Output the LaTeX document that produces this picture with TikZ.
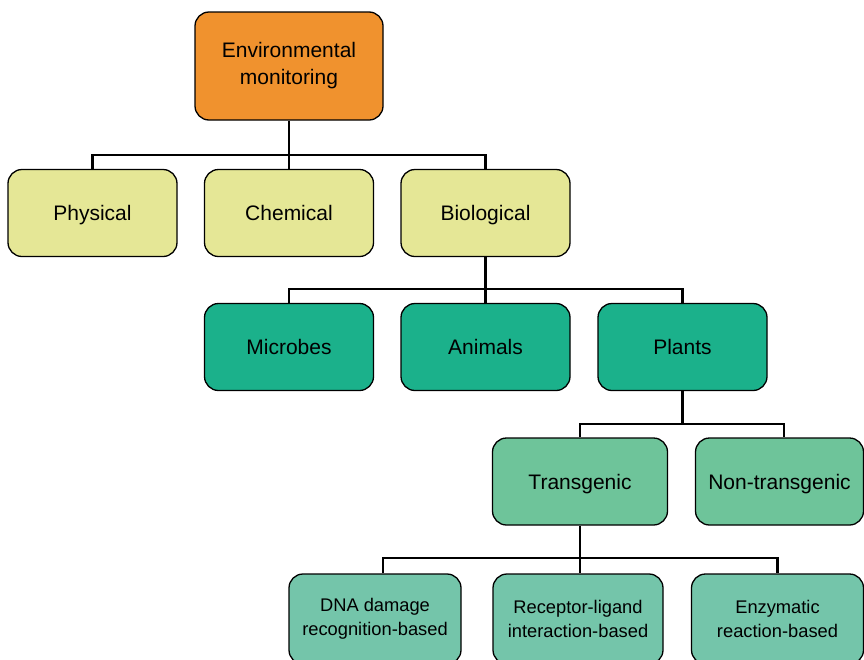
\documentclass[tikz,border=0pt]{standalone}
\usepackage{fontspec}
\setmainfont{Liberation Sans}
\begin{document}
\definecolor{orangebox}{HTML}{F0922E}
\definecolor{yellowbox}{HTML}{E5E796}
\definecolor{tealbox}{HTML}{1BB18B}
\definecolor{greenbox}{HTML}{6EC49A}
\definecolor{mintbox}{HTML}{74C5AA}
\begin{tikzpicture}[x=1pt,y=-1pt,
  box/.style={draw=black,line width=1.3pt,rounded corners=14pt,inner sep=0pt,
    align=center,minimum height=87pt},
  bigtext/.style={font=\fontsize{21}{27}\selectfont},
  oneline/.style={text height=15pt,text depth=0pt},
  smalltext/.style={font=\fontsize{18.3}{24}\selectfont},
  link/.style={draw=black,line width=2.8pt,line join=miter}]
\useasboundingbox (0,0) rectangle (864,659);

% top level
\node[box,bigtext,fill=orangebox,minimum width=188pt,minimum height=108pt] (env) at (289,66) {Environmental\\monitoring};

% monitoring approaches
\node[box,bigtext,oneline,fill=yellowbox,minimum width=169pt] (phys) at (92.5,213) {Physical};
\node[box,bigtext,oneline,fill=yellowbox,minimum width=169pt] (chem) at (289,213) {Chemical};
\node[box,bigtext,oneline,fill=yellowbox,minimum width=169pt] (bio) at (485.5,213) {Biological};

% biological indicators
\node[box,bigtext,oneline,fill=tealbox,minimum width=169pt] (mic) at (289,347) {Microbes};
\node[box,bigtext,oneline,fill=tealbox,minimum width=169pt] (ani) at (485.5,347) {Animals};
\node[box,bigtext,oneline,fill=tealbox,minimum width=169pt] (pla) at (682.5,347) {Plants};

% plant types
\node[box,bigtext,oneline,fill=greenbox,minimum width=175pt] (tra) at (580,481.5) {Transgenic};
\node[box,bigtext,oneline,fill=greenbox,minimum width=168pt] (non) at (779.5,481.5) {Non-transgenic};

% transgenic mechanisms
\node[box,smalltext,fill=mintbox,minimum width=172pt,minimum height=90pt] (dna) at (375,619) {DNA damage\\recognition-based};
\node[box,smalltext,fill=mintbox,minimum width=170pt,minimum height=90pt] (rec) at (578,619) {Receptor-ligand\\interaction-based};
\node[box,smalltext,fill=mintbox,minimum width=172pt,minimum height=90pt] (enz) at (777.5,619) {Enzymatic\\reaction-based};

% bus points where each parent's line branches
\coordinate (b1) at (env.south |- 0,155);
\coordinate (b2) at (bio.south |- 0,289);
\coordinate (b3) at (pla.south |- 0,424);
\coordinate (b4) at (tra.south |- 0,558);

\path[link] (env.south) -- (b1);
\path[link] (phys.north) |- (b1) -| (bio.north);
\path[link] (b1) -- (chem.north);

\path[link] (bio.south) -- (b2);
\path[link] (mic.north) |- (b2) -| (pla.north);
\path[link] (b2) -- (ani.north);

\path[link] (pla.south) -- (b3);
\path[link] (tra.north) |- (b3) -| ([xshift=4.5pt]non.north);

\path[link] (tra.south) -- (b4);
\path[link] ([xshift=8pt]dna.north) |- (b4) -| (enz.north);
\path[link] (b4) -- ([xshift=2pt]rec.north);
\end{tikzpicture}
\end{document}
